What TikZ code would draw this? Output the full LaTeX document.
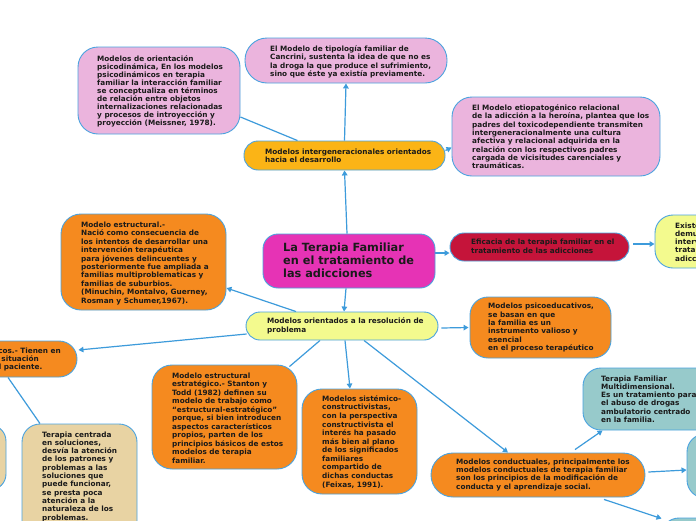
\documentclass[tikz,border=0pt]{standalone}
\usepackage{fontspec}
\setmainfont{DejaVu Sans}
\usetikzlibrary{arrows.meta,calc,backgrounds}
\definecolor{conn}{HTML}{3D9BDB}
\definecolor{bord}{HTML}{4AA3DF}
\definecolor{pinkf}{HTML}{EBB4DD}
\definecolor{ambf}{HTML}{FBB416}
\definecolor{magf}{HTML}{E633B5}
\definecolor{redf}{HTML}{C5143A}
\definecolor{yelf}{HTML}{F3FA8E}
\definecolor{orf}{HTML}{F58A1F}
\definecolor{beigef}{HTML}{E8D3A3}
\definecolor{tealf}{HTML}{97CACB}
\definecolor{txtc}{HTML}{1A1A1A}
\tikzset{
  box/.style={draw=bord, line width=0.9pt, rectangle, inner sep=0pt},
  % anchor = baseline of the LAST line of the text
  txt/.style={anchor=base west, align=left, inner sep=0pt, text=txtc,
    font=\fontsize{7.3}{8.3}\selectfont\bfseries},
  link/.style={draw=conn, line width=1.2pt},
  arr/.style={link, -{Triangle[length=5pt,width=5.5pt]}},
}
\begin{document}
\begin{tikzpicture}[x=1pt,y=-1pt]
\useasboundingbox (0,0) rectangle (696,520);
\clip (0,0) rectangle (696,520);

% boxes
\node[box, fill=pinkf, minimum width=162pt, minimum height=87pt, rounded corners=20pt] (psico) at (159,90.5) {};
\node[box, fill=pinkf, minimum width=202pt, minimum height=45pt, rounded corners=22pt] (cancrini) at (346,60.5) {};
\node[box, fill=pinkf, minimum width=208pt, minimum height=79pt, rounded corners=20pt] (etio) at (556,136.5) {};
\node[box, fill=ambf, minimum width=201pt, minimum height=29pt, rounded corners=14pt] (intergen) at (344.5,155.5) {};
\node[box, fill=magf, minimum width=172pt, minimum height=54pt, rounded corners=15pt] (center) at (349,261) {};
\node[box, fill=redf, minimum width=179pt, minimum height=28pt, rounded corners=14pt] (eficacia) at (539.5,247) {};
\node[box, fill=yelf, minimum width=105pt, minimum height=53pt, rounded corners=18pt] (existe) at (707.5,241.5) {};
\node[box, fill=orf, minimum width=165pt, minimum height=96pt, rounded corners=20pt] (estructural) at (143.5,262) {};
\node[box, fill=yelf, minimum width=192pt, minimum height=28pt, rounded corners=14pt] (orientados) at (342,326) {};
\node[box, fill=orf, minimum width=141pt, minimum height=61pt, rounded corners=18pt] (psicoedu) at (540.5,327.5) {};
\node[box, fill=orf, minimum width=197pt, minimum height=36pt, rounded corners=18pt] (leftor) at (-21.5,359) {};
\node[box, fill=beigef, minimum width=126pt, minimum height=65pt, rounded corners=16pt] (leftbeige) at (-57,457.5) {};
\node[box, fill=beigef, minimum width=115pt, minimum height=121pt, rounded corners=18pt] (centrada) at (79.5,484.5) {};
\node[box, fill=orf, minimum width=145pt, minimum height=104pt, rounded corners=20pt] (estrategico) at (224.5,417) {};
\node[box, fill=orf, minimum width=115pt, minimum height=105pt, rounded corners=20pt] (sistemico) at (359.5,441.5) {};
\node[box, fill=orf, minimum width=214pt, minimum height=44pt, rounded corners=22pt] (conductuales) at (538,475) {};
\node[box, fill=tealf, minimum width=177pt, minimum height=62pt, rounded corners=18pt] (multidim) at (671.5,399) {};
\node[box, fill=tealf, minimum width=113pt, minimum height=64pt, rounded corners=18pt] (rightteal) at (743.5,466) {};
\node[box, fill=tealf, minimum width=139pt, minimum height=62pt, rounded corners=18pt] (bottomright) at (730.5,549) {};

% texts (positioned at the baseline of their last line)
\node[txt, font=\fontsize{7.3}{8.1}\selectfont\bfseries] (psico-t) at (97,125.8) {Modelos de orientación\\psicodinámica, En los modelos\\psicodinámicos en terapia\\familiar la interacción familiar\\se conceptualiza en términos\\de relación entre objetos\\internalizaciones relacionadas\\y procesos de introyección y\\proyección (Meissner, 1978).};
\node[txt] (cancrini-t) at (270,76.4) {El Modelo de tipología familiar de\\Cancrini, sustenta la idea de que no es\\la droga la que produce el sufrimiento,\\sino que éste ya existía previamente.};
\node[txt] (etio-t) at (472,168.6) {El Modelo etiopatogénico relacional\\de la adicción a la heroína, plantea que los\\padres del toxicodependiente transmiten\\intergeneracionalmente una cultura\\afectiva y relacional adquirida en la\\relación con los respectivos padres\\cargada de vicisitudes carenciales y\\traumáticas.};
\node[txt] (intergen-t) at (265,162.6) {Modelos intergeneracionales orientados\\hacia el desarrollo};
\node[txt, font=\fontsize{11.3}{13.3}\selectfont\bfseries] (center-t) at (283,277.6) {La Terapia Familiar\\en el tratamiento de\\las adicciones};
\node[txt] (eficacia-t) at (471,253) {Eficacia de la terapia familiar en el\\tratamiento de las adicciones};
\node[txt] (existe-t) at (675,261.2) {Existen estudios que\\demuestran la eficacia de la\\intervención familiar en el\\tratamiento de las\\adicciones.};
\node[txt, font=\fontsize{7.3}{8.45}\selectfont\bfseries] (estructural-t) at (81,303.3) {Modelo estructural.-\\Nació como consecuencia de\\los intentos de desarrollar una\\intervención terapéutica\\para jóvenes delincuentes y\\posteriormente fue ampliada a\\familias multiproblematicas y\\familias de suburbios.\\(Minuchin, Montalvo, Guerney,\\Rosman y Schumer,1967).};
\node[txt] (orientados-t) at (267,332) {Modelos orientados a la resolución de\\problema};
\node[txt, font=\fontsize{7.3}{8.33}\selectfont\bfseries] (psicoedu-t) at (488,350.4) {Modelos psicoeducativos,\\se basan en que\\la familia es un\\instrumento valioso y\\esencial\\en el proceso terapéutico};
\node[txt, anchor=base east] (leftor-t) at (61,369.6) {estratégicos.- Tienen en\\cuenta la situación\\actual del paciente.};
\node[txt] (centrada-t) at (42,520) {Terapia centrada\\en soluciones,\\desvía la atención\\de los patrones y\\problemas a las\\soluciones que\\puede funcionar,\\se presta poca\\atención a la\\naturaleza de los\\problemas.};
\node[txt, font=\fontsize{7.3}{8.5}\selectfont\bfseries] (estrategico-t) at (172,463) {Modelo estructural\\estratégico.- Stanton y\\Todd (1982) definen su\\modelo de trabajo como\\“estructural-estratégico”\\porque, si bien introducen\\aspectos característicos\\propios, parten de los\\principios básicos de estos\\modelos de terapia\\familiar.};
\node[txt, font=\fontsize{7.3}{8.57}\selectfont\bfseries] (sistemico-t) at (322,487) {Modelos sistémico-\\constructivistas,\\con la perspectiva\\constructivista el\\interés ha pasado\\más bien al plano\\de los significados\\familiares\\compartido de\\dichas conductas\\(Feixas, 1991).};
\node[txt] (conductuales-t) at (456,489.2) {Modelos conductuales, principalmente los\\modelos conductuales de terapia familiar\\son los principios de la modificación de\\conducta y el aprendizaje social.};
\node[txt] (multidim-t) at (601,422.5) {Terapia Familiar\\Multidimensional.\\Es un tratamiento para\\el abuso de drogas\\ambulatorio centrado\\en la familia.};

% connectors
\begin{scope}[on background layer]
\fill[white] (0,0) rectangle (696,520);
\draw[arr] ($(center.north)+(-2,0)$) -- (intergen.south);
\draw[arr] (intergen.north) -- (cancrini.south);
\draw[link] ($(intergen.north)+(-47,0)$) -- ($(psico.east)+(0,26.5)$);
\draw[arr] ($(intergen.east)+(0,-5)$) -- ($(etio.west)+(0,11)$);
\draw[arr] ($(center.east)+(0,-8)$) -- ($(eficacia.west)+(0,6)$);
\draw[arr] ($(eficacia.east)+(4,-3)$) -- ($(existe.west)+(0,2.5)$);
\draw[arr] ($(center.south)+(-3,0)$) -- ($(orientados.north)+(2,0)$);
\draw[arr] ($(orientados.north)+(-46,0)$) -- ($(estructural.east)+(0,26)$);
\draw[arr] ($(orientados.west)+(1,8)$) -- ($(leftor.east)+(1,-9)$);
\draw[link] ($(leftor.south)+(29.5,0)$) -- ($(centrada.north)+(-39.5,0)$);
\draw[link] ($(orientados.south)+(-22,0)$) -- ($(estrategico.north east)+(-8,2)$);
\draw[arr] ($(orientados.south)+(3,0)$) -- ($(sistemico.north)+(-9.5,0)$);
\draw[arr] ($(orientados.south)+(22,0)$) -- ($(conductuales.north)+(-30,0)$);
\draw[arr] ($(orientados.east)+(3,2)$) -- ($(psicoedu.west)+(-1,0)$);
\draw[arr] ($(conductuales.north)+(37,-3)$) -- ($(multidim.south west)+(20,0)$);
\draw[arr] ($(conductuales.east)+(3,-3)$) -- ($(rightteal.west)+(0,4)$);
\draw[arr] ($(conductuales.south)+(66,2)$) -- ($(bottomright.north west)+(1,1)$);
\end{scope}
\end{tikzpicture}
\end{document}
